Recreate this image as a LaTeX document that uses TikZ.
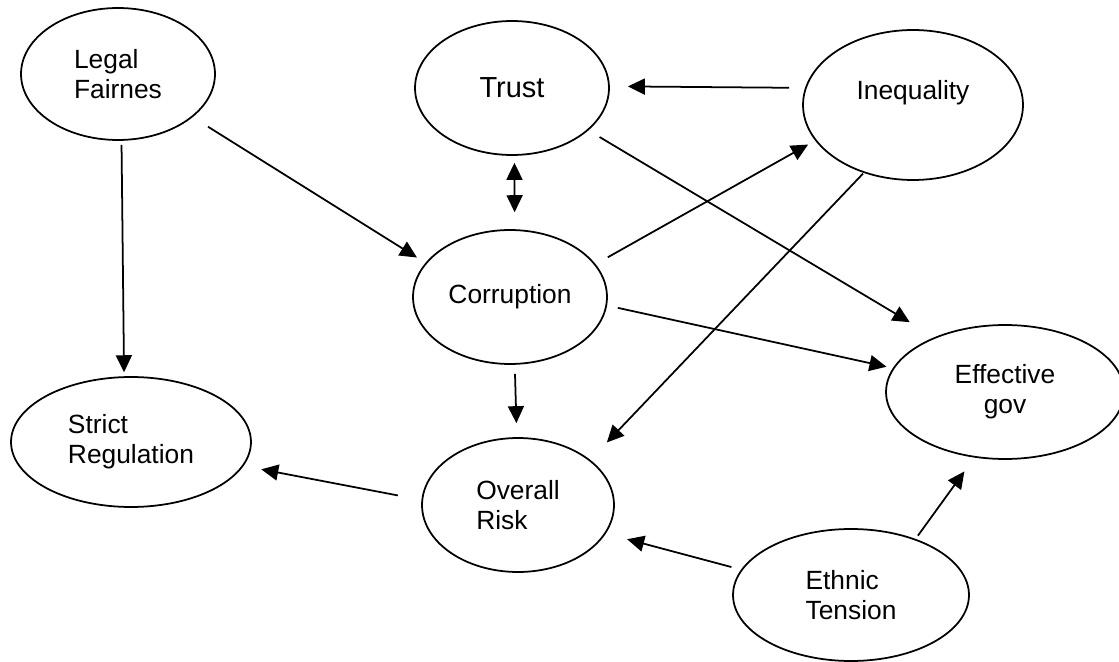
\documentclass[tikz,border=0pt]{standalone}
\usepackage{fontspec}
\setmainfont{Liberation Sans}
\usetikzlibrary{arrows.meta,shapes.geometric}

\begin{document}
\begin{tikzpicture}[x=0.02cm, y=-0.02cm,
    factor/.style={ellipse, draw=black, line width=1pt, inner sep=0pt,
                   font=\fontsize{15}{17}\selectfont},
    link/.style={-{Triangle[length=3.4mm, width=3.2mm]}, line width=1pt},
  ]
  \useasboundingbox (0,0) rectangle (1119,662);
  % the eight factors, placed at their spots on the page
  \node[factor, minimum width=3.88cm, minimum height=2.64cm, align=left]
     (legal) at (118,74) {Legal\\Fairnes};
  \node[factor, minimum width=3.88cm, minimum height=2.68cm,
        font=\fontsize{16.5}{19}\selectfont]
     (trust) at (512,88) {Trust};
  \node[factor, minimum width=4.4cm, minimum height=3.0cm, align=center]
     (ineq) at (913,105) {Inequality\\~};
  \node[factor, minimum width=3.88cm, minimum height=2.68cm]
     (corr) at (510,297) {Corruption};
  \node[factor, minimum width=4.76cm, minimum height=2.68cm, align=center]
     (eff) at (1005,392) {Effective\\gov};
  \node[factor, minimum width=4.8cm, minimum height=2.6cm, align=left]
     (strict) at (131,442) {Strict\\Regulation};
  \node[factor, minimum width=3.84cm, minimum height=2.68cm, align=left]
     (risk) at (518,505) {Overall\\Risk};
  \node[factor, minimum width=4.72cm, minimum height=2.64cm, align=left]
     (ethnic) at (851,595) {Ethnic\\Tension};
  % links, with the loose gaps of the original
  \draw[link, shorten <=0.8mm, shorten >=0.8mm] (legal.-87) -- (strict.96);
  \draw[link, shorten <=3.6mm, shorten >=2mm] (legal.-30) -- (corr.158);
  \draw[link, shorten <=3.2mm, shorten >=3.6mm] (ineq.171) -- (trust.1);
  \draw[link, shorten <=2.6mm, shorten >=5.8mm] (trust.-29) -- (eff.142);
  \draw[link, {Triangle[length=3.4mm, width=3.2mm]}-{Triangle[length=3.4mm, width=3.2mm]},
        shorten <=1.4mm, shorten >=3.4mm] (trust.-88) -- (corr.86);
  \draw[link, shorten <=2.8mm, shorten >=1.6mm] (corr.21) -- (ineq.200);
  \draw[link, shorten <=0.2mm, shorten >=4.8mm] (ineq.234) -- (risk.32);
  \draw[link, shorten <=2.2mm, shorten >=1.3mm] (corr.-5) -- (eff.168);
  \draw[link, shorten <=1.8mm, shorten >=2.8mm] (corr.-86) -- (risk.91);
  \draw[link, shorten <=4.8mm, shorten >=3.6mm] (risk.177) -- (strict.-12);
  \draw[link, shorten <=2mm, shorten >=4.4mm] (ethnic.167) -- (risk.-18);
  \draw[link, shorten <=0.8mm, shorten >=3.4mm] (ethnic.41) -- (eff.-115);
\end{tikzpicture}
\end{document}
